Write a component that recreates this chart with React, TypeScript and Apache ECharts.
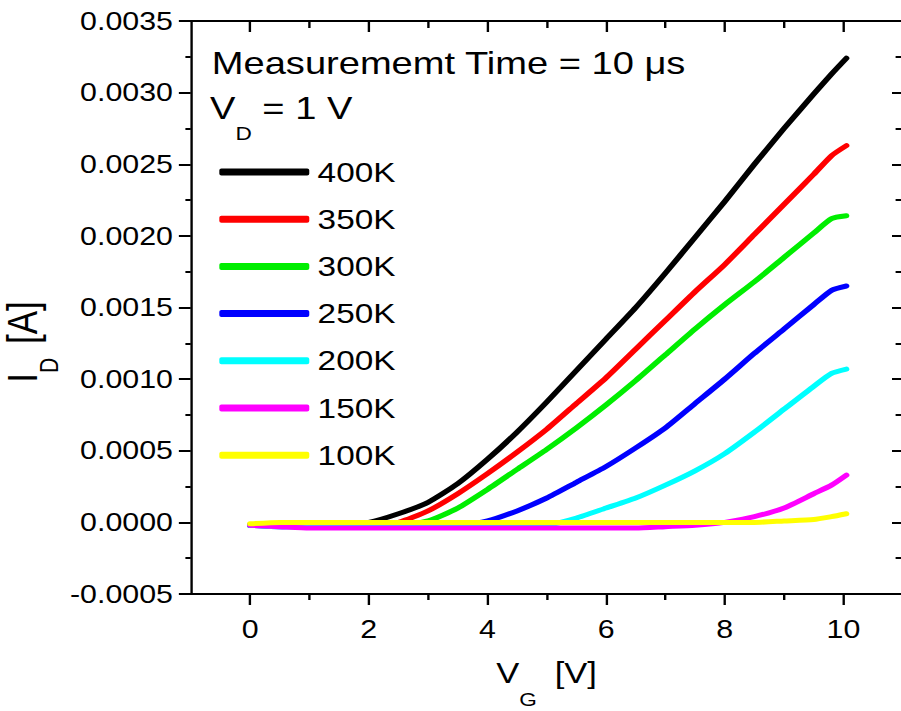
import React, { useEffect, useRef } from "react";
import * as echarts from "echarts";

// Gate voltage samples (V)
const VG = [0, 0.5, 1, 1.5, 2, 2.5, 3, 3.5, 4, 4.5, 5, 5.5, 6, 6.5, 7, 7.5, 8, 8.5, 9, 9.5, 9.8, 10.05];

// Drain current (A) for each temperature
const I_400K = [-0.00002, -0.00002, -0.00002, -0.00002, 0.0, 0.00006, 0.00014, 0.00027, 0.00044, 0.00063, 0.00084, 0.00106, 0.00128, 0.0015, 0.00174, 0.00199, 0.00224, 0.0025, 0.00275, 0.00299, 0.00313, 0.00324];
const I_350K = [-0.00002, -0.00002, -0.00002, -0.00002, -0.00002, 0.0, 0.00008, 0.0002, 0.00034, 0.00049, 0.00065, 0.00083, 0.00101, 0.00121, 0.00141, 0.00161, 0.0018, 0.00201, 0.00222, 0.00243, 0.00256, 0.00263];
const I_300K = [-0.00002, -0.00002, -0.00002, -0.00002, -0.00002, -0.00002, 0.00001, 0.0001, 0.00023, 0.00037, 0.00051, 0.00066, 0.00082, 0.00099, 0.00117, 0.00135, 0.00152, 0.00168, 0.00185, 0.00202, 0.00212, 0.00214];
const I_250K = [-0.00002, -0.00003, -0.00003, -0.00003, -0.00003, -0.00003, -0.00003, -0.00002, 0.00001, 0.00008, 0.00017, 0.00028, 0.00039, 0.00052, 0.00066, 0.00083, 0.001, 0.00118, 0.00135, 0.00152, 0.00162, 0.00165];
const I_200K = [-0.00002, -0.00003, -0.00003, -0.00003, -0.00003, -0.00003, -0.00003, -0.00003, -0.00003, -0.00003, -0.00002, 0.00003, 0.0001, 0.00017, 0.00026, 0.00036, 0.00048, 0.00063, 0.00079, 0.00095, 0.00104, 0.00107];
const I_150K = [-0.00002, -0.00003, -0.00004, -0.00004, -0.00004, -0.00004, -0.00004, -0.00004, -0.00004, -0.00004, -0.00004, -0.00004, -0.00004, -0.00004, -0.00003, -0.00002, 0.0, 0.00004, 0.0001, 0.0002, 0.00026, 0.00033];
const I_100K = [-0.00001, 0.0, 0.0, 0.0, 0.0, 0.0, 0.0, 0.0, 0.0, 0.0, 0.0, 0.0, 0.0, 0.0, 0.0, 0.0, 0.0, 0.0, 0.00001, 0.00002, 0.00004, 0.00006];

const SERIES_NAMES = ["400K", "350K", "300K", "250K", "200K", "150K", "100K"];
const SERIES_VALUES = [I_400K, I_350K, I_300K, I_250K, I_200K, I_150K, I_100K];

// Axis ticks / labels
const X_MAJOR_TICKS = [0, 2, 4, 6, 8, 10];
const X_MINOR_TICKS = [1, 3, 5, 7, 9];
const X_MIN = -1;
const X_MAX = 11;
const Y_MIN = -0.0005;
const Y_MAX = 0.0035;
const Y_STEP = 0.0005;

const TITLE_LINE_1 = "Measurememt Time = 10 μs";

export default function App() {
  const ref = useRef<HTMLDivElement>(null);

  useEffect(() => {
    document.body.style.margin = "0";
    const chart = echarts.init(ref.current!, null, { renderer: "svg" });
    const FONT = "'Liberation Sans', Arial, Helvetica, sans-serif";
    const COLORS = ["#000000", "#ff0000", "#00ee00", "#0000ff", "#00ffff", "#ff00ff", "#ffff00"];
    const black = "#000";
    const axisLineStyle = { color: black, width: 2 };

    const series = SERIES_NAMES.map((name, i) => ({
      name,
      type: "line",
      data: VG.map((v, j) => [v, SERIES_VALUES[i][j]]),
      showSymbol: false,
      symbol: "none",
      smooth: 0.2,
      color: COLORS[i],
      lineStyle: { width: 5, color: COLORS[i], cap: "round", join: "round" },
      xAxisIndex: 0,
      yAxisIndex: 0,
      z: 2 + i,
    }));

    const option: any = {
      animation: false,
      backgroundColor: "#ffffff",
      grid: { left: 160.3, top: 21, width: 598.3, height: 573, containLabel: false },
      xAxis: [
        {
          type: "value",
          position: "bottom",
          min: X_MIN,
          max: X_MAX,
          axisLine: { show: true, onZero: false, lineStyle: axisLineStyle },
          axisTick: { show: true, customValues: X_MAJOR_TICKS, length: 11, lineStyle: axisLineStyle },
          axisLabel: {
            show: true,
            customValues: X_MAJOR_TICKS,
            fontSize: 25.5,
            fontFamily: FONT,
            color: black,
            margin: 22,
          },
          splitLine: { show: false },
        },
        {
          type: "value",
          position: "bottom",
          min: X_MIN,
          max: X_MAX,
          axisLine: { show: false, onZero: false },
          axisTick: { show: true, customValues: X_MINOR_TICKS, length: 6, lineStyle: axisLineStyle },
          axisLabel: { show: false },
          splitLine: { show: false },
        },
        {
          type: "value",
          position: "top",
          min: X_MIN,
          max: X_MAX,
          axisLine: { show: true, onZero: false, lineStyle: axisLineStyle },
          axisTick: { show: true, inside: true, customValues: X_MAJOR_TICKS, length: 11, lineStyle: axisLineStyle },
          axisLabel: { show: false },
          splitLine: { show: false },
        },
        {
          type: "value",
          position: "top",
          min: X_MIN,
          max: X_MAX,
          axisLine: { show: false, onZero: false },
          axisTick: { show: true, inside: true, customValues: X_MINOR_TICKS, length: 7, lineStyle: axisLineStyle },
          axisLabel: { show: false },
          splitLine: { show: false },
        },
      ],
      yAxis: [
        {
          type: "value",
          position: "left",
          min: Y_MIN,
          max: Y_MAX,
          interval: Y_STEP,
          axisLine: { show: true, onZero: false, lineStyle: axisLineStyle },
          axisTick: { show: true, length: 10, lineStyle: axisLineStyle },
          minorTick: { show: true, splitNumber: 2, length: 4.5, lineStyle: axisLineStyle },
          axisLabel: {
            fontSize: 25.5,
            fontFamily: FONT,
            color: black,
            margin: 15,
            formatter: (v: number) => v.toFixed(4),
          },
          splitLine: { show: false },
          minorSplitLine: { show: false },
        },
        {
          type: "value",
          position: "right",
          min: Y_MIN,
          max: Y_MAX,
          interval: Y_STEP,
          axisLine: { show: true, onZero: false, lineStyle: axisLineStyle },
          axisTick: { show: true, inside: true, length: 9, lineStyle: axisLineStyle },
          minorTick: { show: true, splitNumber: 2, length: 6, lineStyle: axisLineStyle },
          axisLabel: { show: false },
          splitLine: { show: false },
        },
      ],
      legend: {
        data: SERIES_NAMES,
        orient: "vertical",
        left: 184.3,
        top: 157,
        padding: 0,
        itemWidth: 75.6,
        itemHeight: 7,
        itemGap: 17.2,
        icon: "roundRect",
        selectedMode: false,
        textStyle: { fontSize: 28, lineHeight: 30, color: black, fontFamily: FONT, padding: [0, 0, 0, 2] },
      },
      graphic: [
        {
          type: "text",
          x: 178,
          y: 63,
          z: 100,
          style: {
            text: TITLE_LINE_1,
            fontSize: 32,
            fontFamily: FONT,
            fill: black,
            align: "left",
            verticalAlign: "middle",
          },
        },
        {
          type: "text",
          x: 176.5,
          y: 91.5,
          z: 100,
          style: {
            text: "{m|V}{s|D}{m| = 1 V}",
            align: "left",
            verticalAlign: "top",
            fontFamily: FONT,
            fill: black,
            rich: {
              m: { fontSize: 32, lineHeight: 36, verticalAlign: "top", fontFamily: FONT, fill: black },
              s: { fontSize: 19, lineHeight: 16, verticalAlign: "top", padding: [32.5, 0, 0, 0], fontFamily: FONT, fill: black },
            },
          },
        },
        {
          type: "text",
          x: 417,
          y: 658,
          z: 100,
          style: {
            text: "{m|V}{s|G}{m| [V]}",
            align: "left",
            verticalAlign: "top",
            fontFamily: FONT,
            fill: black,
            rich: {
              m: { fontSize: 29, lineHeight: 34, verticalAlign: "top", fontFamily: FONT, fill: black },
              s: { fontSize: 19, lineHeight: 14, verticalAlign: "top", padding: [32, 7, 0, 0], fontFamily: FONT, fill: black },
            },
          },
        },
        {
          type: "text",
          x: 1,
          y: 342,
          rotation: Math.PI / 2,
          z: 100,
          style: {
            text: "{m|I}{s|D}{m| [A]}",
            align: "center",
            verticalAlign: "top",
            fontFamily: FONT,
            fill: black,
            rich: {
              m: { fontSize: 35, lineHeight: 40, verticalAlign: "top", fontFamily: FONT, fill: black },
              s: { fontSize: 21, lineHeight: 16, verticalAlign: "top", padding: [30.2, 4, 0, 0], fontFamily: FONT, fill: black },
            },
          },
        },
      ],
      series,
    };

    chart.setOption(option);
    return () => chart.dispose();
  }, []);

  return (
    <div
      style={{
        position: "fixed",
        left: 0,
        top: 0,
        width: 901,
        height: 711,
        overflow: "hidden",
        background: "#ffffff",
      }}
    >
      <div
        ref={ref}
        style={{ width: 770, height: 711, transform: "scaleX(1.19)", transformOrigin: "0 0" }}
      />
    </div>
  );
}
